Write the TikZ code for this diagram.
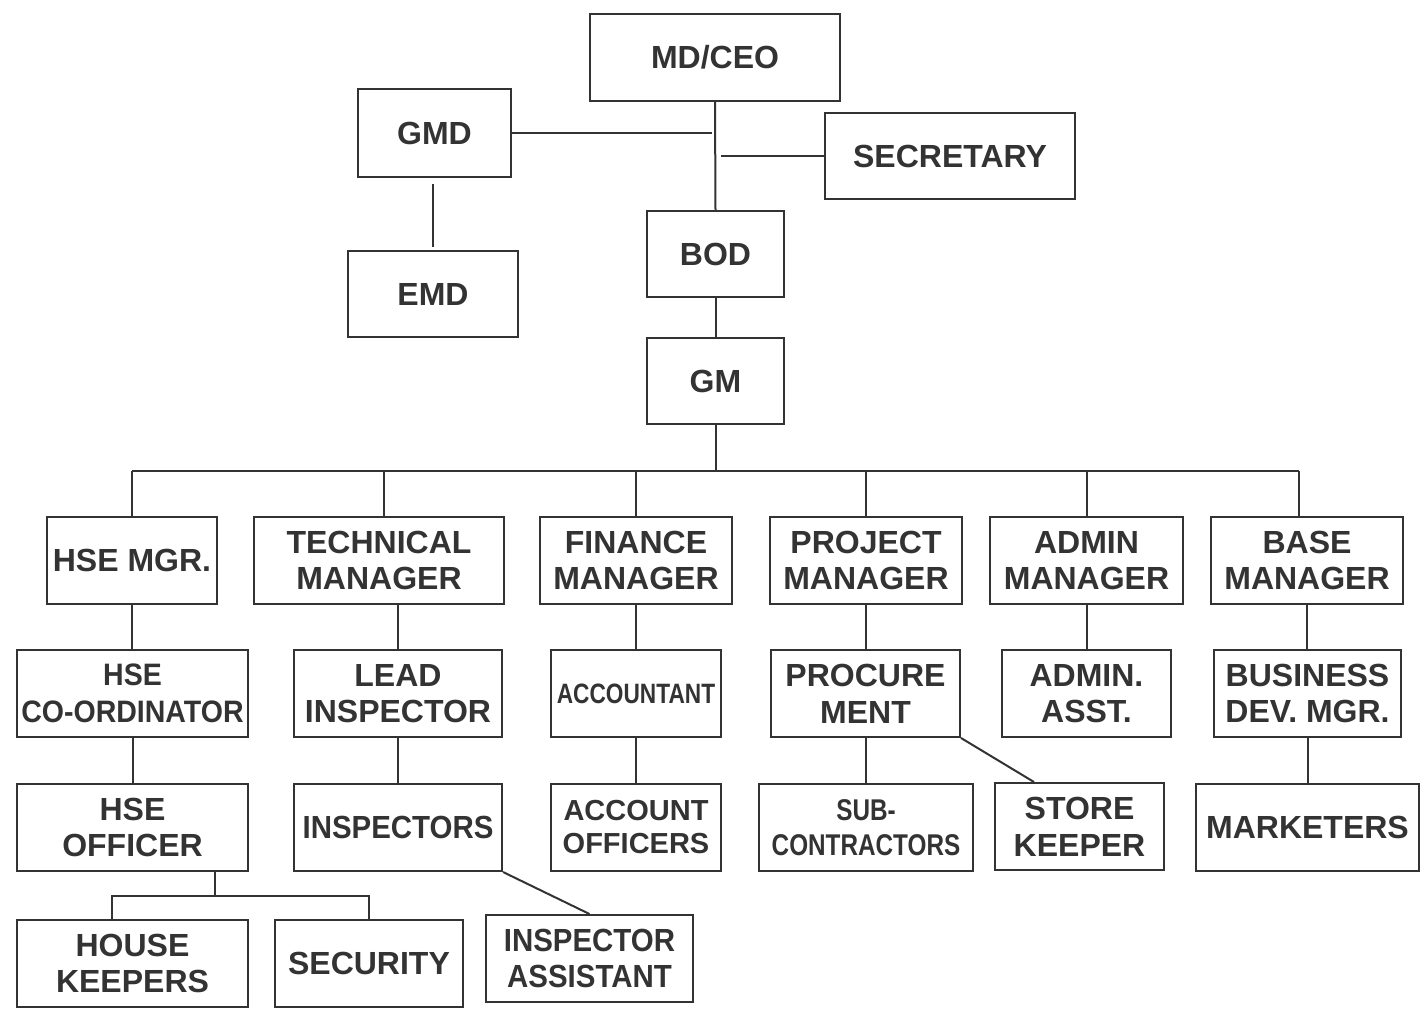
\documentclass[tikz,border=0pt]{standalone}
\usepackage{fontspec}
\setmainfont{Liberation Sans}
\definecolor{ink}{RGB}{51,51,51}
\begin{document}
\begin{tikzpicture}[x=1pt,y=-1pt,
  box/.style={draw=ink, line width=2pt, text=ink, rectangle, inner sep=0pt, align=center,
    font=\bfseries\fontsize{32}{36.7}\selectfont, minimum height=87pt},
  link/.style={draw=ink, line width=2pt}]
\useasboundingbox (0,0) rectangle (1428,1010);
% top
\node[box, minimum width=250pt] (mdceo) at (715,57) {MD/CEO};
\node[box, minimum width=153pt, minimum height=88pt] (gmd) at (434.5,133) {GMD};
\node[box, minimum width=250pt, minimum height=86pt] (sec) at (950,156) {SECRETARY};
\node[box, minimum width=137pt, minimum height=86pt] (bod) at (715.5,254) {BOD};
\node[box, minimum width=170pt, minimum height=86pt] (emd) at (433,294) {EMD};
\node[box, minimum width=137pt, minimum height=86pt] (gm) at (715.5,381) {GM};
% row 1
\node[box, minimum width=170pt] (hsem) at (132,560.5) {HSE MGR.};
\node[box, minimum width=250pt] (tech) at (379,560.5) {TECHNICAL\\MANAGER};
\node[box, minimum width=192pt] (fin) at (636,560.5) {FINANCE\\MANAGER};
\node[box, minimum width=192pt] (proj) at (866,560.5) {PROJECT\\MANAGER};
\node[box, minimum width=193pt] (adm) at (1086.5,560.5) {ADMIN\\MANAGER};
\node[box, minimum width=192pt] (base) at (1307,560.5) {BASE\\MANAGER};
% row 2
\node[box, minimum width=231pt, font=\bfseries\fontsize{31}{37}\selectfont] (hsec) at (132.5,693.5)
  {\scalebox{0.92}[1]{HSE}\\\scalebox{0.92}[1]{CO-ORDINATOR}};
\node[box, minimum width=208pt] (lead) at (398,693.5) {LEAD\\INSPECTOR};
\node[box, minimum width=170pt, font=\bfseries\fontsize{28}{34}\selectfont] (acct) at (636,693.5)
  {\scalebox{0.81}[1]{ACCOUNTANT}};
\node[box, minimum width=189pt] (proc) at (865.5,693.5) {PROCURE\\MENT};
\node[box, minimum width=169pt] (aasst) at (1086.5,693.5) {ADMIN.\\ASST.};
\node[box, minimum width=187pt] (bdm) at (1307.5,693.5) {BUSINESS\\DEV. MGR.};
% row 3
\node[box, minimum width=231pt] (hseo) at (132.5,827.5) {HSE\\OFFICER};
\node[box, minimum width=208pt] (insp) at (398,827.5) {\scalebox{0.92}[1]{INSPECTORS}};
\node[box, minimum width=170pt, font=\bfseries\fontsize{29}{33}\selectfont] (ao) at (636,827.5)
  {ACCOUNT\\OFFICERS};
\node[box, minimum width=214pt, font=\bfseries\fontsize{30}{35}\selectfont] (sub) at (866,827.5)
  {\scalebox{0.81}[1]{SUB-}\\\scalebox{0.81}[1]{CONTRACTORS}};
\node[box, minimum width=169pt] (store) at (1079.5,826.5) {STORE\\KEEPER};
\node[box, minimum width=223pt] (mkt) at (1307.5,827.5) {MARKETERS};
% row 4
\node[box, minimum width=231pt] (hk) at (132.5,963.5) {HOUSE\\KEEPERS};
\node[box, minimum width=188pt] (secu) at (369,963.5) {SECURITY};
\node[box, minimum width=207pt] (ia) at (589.5,958.5)
  {\scalebox{0.92}[1]{INSPECTOR}\\\scalebox{0.92}[1]{ASSISTANT}};
% bus coordinates
\coordinate (b1) at (132,471);
\coordinate (b2) at (384,471);
\coordinate (b3) at (636,471);
\coordinate (b4) at (866,471);
\coordinate (b5) at (1086.5,471);
\coordinate (b6) at (1299,471);
\coordinate (hb) at (215,896);
\coordinate (hbl) at (112,896);
\coordinate (hbr) at (369,896);
% top connectors
\draw[link] (mdceo.south) -- (bod.north);
\draw[link, shorten >=3pt] (gmd.east) -- (gmd.east -| mdceo.south);
\draw[link, shorten >=6pt] (sec.west) -- (sec.west -| mdceo.south);
\draw[link, shorten <=6pt, shorten >=3pt] (emd.north |- gmd.south) -- (emd.north);
\draw[link] (bod.south) -- (gm.north);
\draw[link] (gm.south) -- (gm.south |- b1);
\draw[link] (b1) -- (b6);
\draw[link] (b1) -- (hsem.north);
\draw[link] (b2) -- (b2 |- tech.north);
\draw[link] (b3) -- (fin.north);
\draw[link] (b4) -- (proj.north);
\draw[link] (b5) -- (adm.north);
\draw[link] (b6) -- (b6 |- base.north);
% column connectors
\draw[link] (hsem.south) -- (hsem.south |- hsec.north);
\draw[link] (hsec.south) -- (hseo.north);
\draw[link] (lead.north |- tech.south) -- (lead.north);
\draw[link] (lead.south) -- (insp.north);
\draw[link] (fin.south) -- (acct.north);
\draw[link] (acct.south) -- (ao.north);
\draw[link] (proj.south) -- (proj.south |- proc.north);
\draw[link] (sub.north |- proc.south) -- (sub.north);
\draw[link] (proc.south east) -- ([xshift=40pt]store.north west);
\draw[link] (adm.south) -- (aasst.north);
\draw[link] (base.south) -- (base.south |- bdm.north);
\draw[link] (bdm.south) -- (bdm.south |- mkt.north);
\draw[link] (hb |- hseo.south) -- (hb);
\draw[link] (hbl |- hk.north) -- (hbl) -- (hbr) -- (hbr |- secu.north);
\draw[link] (insp.south east) -- (ia.north);
\end{tikzpicture}
\end{document}
